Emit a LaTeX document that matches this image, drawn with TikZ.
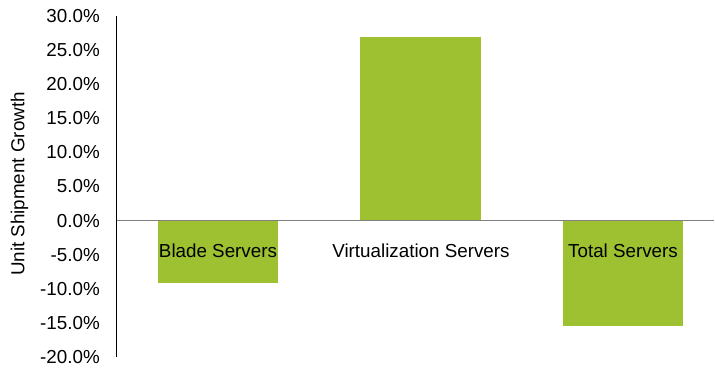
\documentclass[tikz,border=0pt]{standalone}
\usepackage{fontspec}
\setmainfont{Liberation Sans}
\definecolor{bargreen}{RGB}{158,193,50}
\definecolor{zerogray}{RGB}{128,128,128}
\begin{document}
\begin{tikzpicture}[x=1pt,y=-1pt,
  bar/.style={fill=bargreen,draw=none},
  ticklab/.style={anchor=east,inner sep=0pt,font=\fontsize{18.8}{22}\selectfont},
  catlab/.style={anchor=center,inner sep=0pt,font=\fontsize{18.8}{22}\selectfont}]
\useasboundingbox (0,0) rectangle (715,368);
% bars
\path[bar] (158.3,220.6) rectangle (277.7,282.7);
\path[bar] (360,37) rectangle (481,220.6);
\path[bar] (563,220.6) rectangle (682.7,325.7);
% axes
\coordinate (ytop) at (116.7,16);
\coordinate (ybot) at (116.7,357);
\coordinate (z0) at (116.7,220.6);
\coordinate (z1) at (714,220.6);
\draw[zerogray,line width=1.2pt] (z0) -- (z1);
\draw[black,line width=1pt] (ytop) -- (ybot);
% tick labels
\foreach \v [count=\i from 0] in {30.0,25.0,20.0,15.0,10.0,5.0,0.0,-5.0,-10.0,-15.0,-20.0}{
  \node[ticklab] (t\i) at (100,16+\i*34.1) {\v\%};
}
% category labels
\node[catlab] (c1) at (218,250.5) {Blade Servers};
\node[catlab] (c2) at (421,250.5) {Virtualization Servers};
\node[catlab] (c3) at (623,250.5) {Total Servers};
% axis title
\node[rotate=90,inner sep=0pt,font=\fontsize{18.8}{22}\selectfont] (yt) at (19.5,184) {Unit Shipment Growth};
\end{tikzpicture}
\end{document}
